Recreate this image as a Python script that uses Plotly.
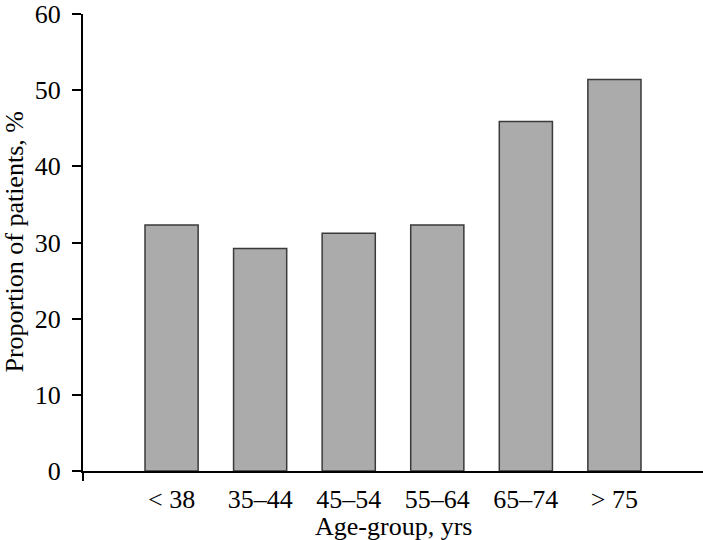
import plotly.graph_objects as go

categories = ["< 38", "35\u201344", "45\u201354", "55\u201364", "65\u201374", "> 75"]
proportions = [32.3, 29.2, 31.2, 32.3, 45.9, 51.4]
y_ticks = [0, 10, 20, 30, 40, 50, 60]
x_title = "Age-group, yrs"
y_title = "Proportion of patients, %"

FONT = "Liberation Serif, Times New Roman, Times, serif"
FS = 26

fig = go.Figure()
fig.add_trace(go.Bar(
    x=list(range(len(categories))),
    y=proportions,
    width=0.6,
    marker=dict(color="#ababab", line=dict(color="#3a3a3a", width=1.5)),
))

PLOT_W, PLOT_H = 620, 460

fig.update_layout(
    width=703, height=540,
    margin=dict(l=83, r=0, t=11, b=69),
    paper_bgcolor="white", plot_bgcolor="white",
    showlegend=False,
    font=dict(family=FONT, size=FS, color="black"),
    xaxis=dict(
        range=[-1.0, 6.0],
        tickmode="array",
        tickvals=list(range(len(categories))),
        ticktext=categories,
        showgrid=False, zeroline=False,
        showline=True, linecolor="black", linewidth=2,
        ticks="", ticklabelstandoff=4,
    ),
    yaxis=dict(
        range=[0, 60],
        tickmode="array", tickvals=y_ticks,
        showgrid=False, zeroline=False,
        showline=True, linecolor="black", linewidth=2,
        ticks="outside", ticklen=9, tickwidth=2, tickcolor="black",
        ticklabelstandoff=6, ticklabeloverflow="allow",
    ),
    annotations=[
        dict(text=x_title, xref="paper", yref="paper",
             x=(393 - 83) / PLOT_W, y=-(527 - 471) / PLOT_H,
             xanchor="center", yanchor="middle", showarrow=False,
             font=dict(size=FS)),
        dict(text=y_title, xref="paper", yref="paper",
             x=-(83 - 14) / PLOT_W, y=0.5, textangle=-90,
             xanchor="center", yanchor="middle", showarrow=False,
             font=dict(size=FS)),
    ],
)

# small stub of the y-axis below the x-axis
fig.add_shape(type="line", xref="paper", yref="paper",
              x0=0, x1=0, y0=0, y1=-10 / PLOT_H,
              line=dict(color="black", width=2))

fig.write_html("out.html",
               config={"displayModeBar": False},
               post_script="document.body.style.margin='0';document.body.style.overflow='hidden';")
